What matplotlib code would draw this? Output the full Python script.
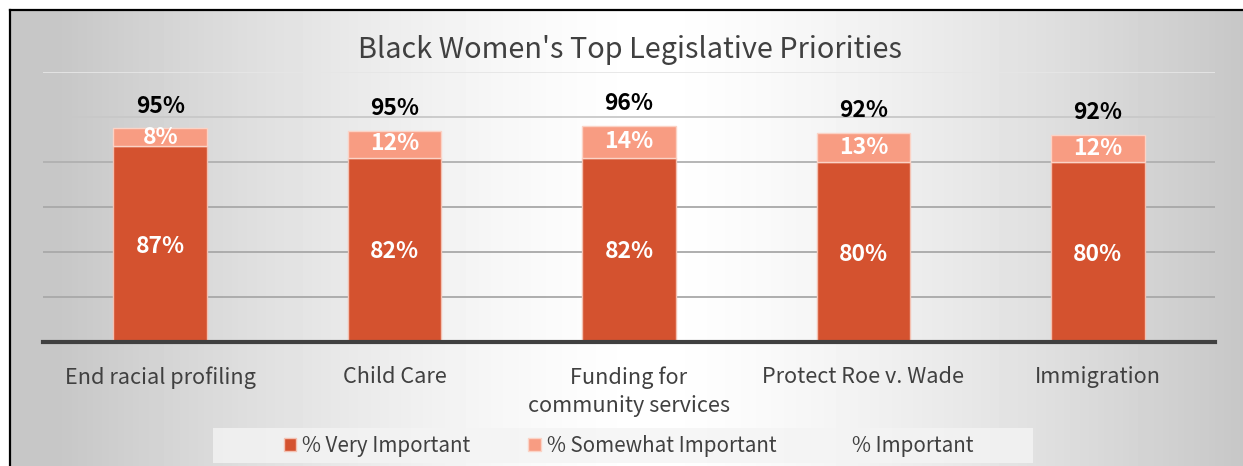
import numpy as np
import matplotlib.pyplot as plt
from matplotlib.patches import Patch, Rectangle

plt.rcParams['font.family'] = ['Noto Sans CJK SC', 'DejaVu Sans']

categories = ['End racial profiling', 'Child Care', 'Funding for\ncommunity services',
              'Protect Roe v. Wade', 'Immigration']
very_important = [87, 82, 82, 80, 80]
somewhat_important = [8, 12, 14, 13, 12]
important = [95, 95, 96, 92, 92]

dark = '#D4522F'
light = '#F89C82'
text_gray = '#404040'

W, H = 1243, 466
fig = plt.figure(figsize=(W / 100, H / 100), dpi=100)

# gradient background inside the frame
bg = fig.add_axes([10 / W, 0, (W - 10) / W, (H - 10) / H])
xx = np.linspace(0, 1, 400)
d = np.clip(np.abs(xx - 0.52) / 0.48, 0, 1)
shade = 1 - 0.22 * d ** 1.4
bg.imshow(np.tile(shade, (10, 1)), cmap='gray', vmin=0, vmax=1, aspect='auto',
          extent=[0, 1, 0, 1])
bg.set_xlim(0, 1)
bg.set_ylim(0, 1)
bg.axis('off')
# frame lines (top and left only, rest is cropped)
fig.add_artist(plt.Line2D([10 / W, 1], [1 - 10 / H, 1 - 10 / H], color='black', lw=1.6))
fig.add_artist(plt.Line2D([10 / W, 10 / W], [0, 1 - 10 / H], color='black', lw=1.6))

ax = fig.add_axes([43 / W, 1 - 342 / H, (1215 - 43) / W, (342 - 72) / H])
ax.patch.set_alpha(0)
x = np.arange(len(categories))
b1 = ax.bar(x, very_important, 0.4, color=dark, edgecolor='#f3c1b2', linewidth=1, zorder=3,
            label='% Very Important')
b2 = ax.bar(x, somewhat_important, 0.4, bottom=very_important, color=light,
            edgecolor='#fbd3c6', linewidth=1, zorder=3, label='% Somewhat Important')

for i in range(len(categories)):
    ax.text(x[i], very_important[i] / 2 - 1, f'{very_important[i]}%', ha='center', va='center',
            color='white', fontsize=16.5, fontweight='bold', zorder=4)
    ax.text(x[i], very_important[i] + somewhat_important[i] / 2, f'{somewhat_important[i]}%',
            ha='center', va='center', color='white', fontsize=16.5, fontweight='bold', zorder=4)
    ax.annotate(f'{important[i]}%', (x[i], very_important[i] + somewhat_important[i]),
                xytext=(0, 16), textcoords='offset points', ha='center', va='center',
                fontsize=16.5, fontweight='bold', color='black', zorder=4)

ax.set_xlim(-0.5, len(categories) - 0.5)
ax.set_ylim(0, 120)
ax.set_yticks([20, 40, 60, 80, 100, 120])
ax.grid(axis='y', color='#a8a8a8', linewidth=1.3, zorder=0)
grid_cols = ['#a8a8a8', '#a8a8a8', '#a8a8a8', '#b0b0b0', '#c8c8c8', '#e6e6e6']
for gl, c in zip(ax.get_ygridlines(), grid_cols):
    gl.set_color(c)
ax.tick_params(axis='y', left=False, labelleft=False)
ax.tick_params(axis='x', bottom=False, pad=14)
ax.set_xticks(x)
ax.set_xticklabels(categories, fontsize=15.6, color=text_gray, linespacing=1.35)
for s in ['left', 'right', 'top']:
    ax.spines[s].set_visible(False)
ax.spines['bottom'].set_color(text_gray)
ax.spines['bottom'].set_linewidth(3)
ax.spines['bottom'].set_zorder(5)

fig.text(0.507, 1 - 50 / H, "Black Women's Top Legislative Priorities", ha='center', va='center',
         fontsize=20.8, color=text_gray)

# legend box
fig.patches.append(Rectangle((213 / W, 1 - 463 / H), (1033 - 213) / W, 35 / H,
                             transform=fig.transFigure, facecolor='#f4f4f4', alpha=0.8,
                             edgecolor='none'))
handles = [Patch(facecolor=dark, edgecolor='#f3c1b2'),
           Patch(facecolor=light, edgecolor='#fbd3c6'),
           Patch(facecolor='none', edgecolor='none')]
labels = ['% Very Important', '% Somewhat Important', '% Important']
leg = fig.legend(handles, labels, loc='center', bbox_to_anchor=(0.506, 1 - 446 / H), ncol=3,
                 frameon=False, fontsize=14.8, handlelength=0.6, handleheight=0.6,
                 handletextpad=0.3, columnspacing=2.8, labelcolor=text_gray)

fig.savefig('out.png', dpi=100)
